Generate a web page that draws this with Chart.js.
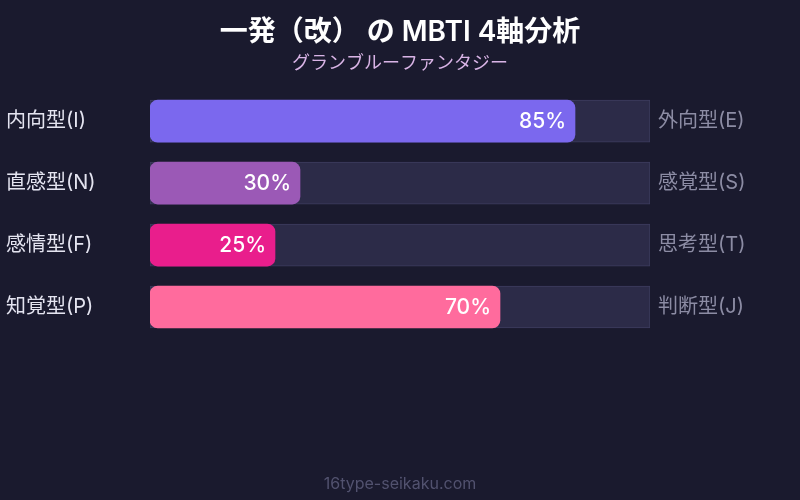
<!DOCTYPE html>
<html>
<head>
<meta charset="utf-8">
<script src="https://cdn.jsdelivr.net/npm/chart.js@4/dist/chart.umd.min.js"></script>
<style>
  html, body { margin: 0; padding: 0; background: #1a1a2e; }
  #wrap { width: 800px; height: 500px; }
</style>
</head>
<body>
<div id="wrap"><canvas id="mbtiChart" width="800" height="500"></canvas></div>
<script>
const LEFT_LABELS = ['内向型(I)', '直感型(N)', '感情型(F)', '知覚型(P)'];
const RIGHT_LABELS = ['外向型(E)', '感覚型(S)', '思考型(T)', '判断型(J)'];
const SCORES = [85, 30, 25, 70];
const TRACK = [100, 100, 100, 100];
const BAR_COLORS = ['#7b68ee', '#9b59b6', '#e91e8c', '#ff6b9d'];

const FONT = '"Inter", "Noto Sans CJK JP", "Noto Sans", sans-serif';

// percent text at the end of each filled bar
const valueLabels = {
    id: 'valueLabels',
    afterDatasetsDraw(chart) {
        const ctx = chart.ctx;
        const meta = chart.getDatasetMeta(0);
        ctx.save();
        ctx.font = '500 21px ' + FONT;
        ctx.fillStyle = '#ffffff';
        ctx.textAlign = 'right';
        ctx.textBaseline = 'middle';
        meta.data.forEach((bar, i) => {
            ctx.fillText(SCORES[i] + '%', bar.x - 9, bar.y + 1);
        });
        ctx.restore();
    }
};

const footer = {
    id: 'footer',
    afterDraw(chart) {
        const ctx = chart.ctx;
        ctx.save();
        ctx.font = '16px ' + FONT;
        ctx.fillStyle = '#52526f';
        ctx.textAlign = 'center';
        ctx.textBaseline = 'middle';
        ctx.fillText('16type-seikaku.com', chart.width / 2, 484);
        ctx.restore();
    }
};

const ctx = document.getElementById('mbtiChart').getContext('2d');
new Chart(ctx, {
    type: 'bar',
    data: {
        labels: LEFT_LABELS,
        datasets: [
            {
                data: SCORES,
                backgroundColor: BAR_COLORS,
                borderRadius: 8,
                borderSkipped: false,
                barThickness: 42,
                grouped: false,
                order: 1
            },
            {
                data: TRACK,
                backgroundColor: '#2c2b48',
                borderColor: '#3d3c5e',
                borderWidth: 1,
                borderSkipped: false,
                barThickness: 42,
                grouped: false,
                order: 2
            }
        ]
    },
    options: {
        indexAxis: 'y',
        responsive: false,
        animation: false,
        layout: { padding: { left: 6, right: 6, top: 0, bottom: 162 } },
        plugins: {
            legend: { display: false },
            tooltip: { enabled: false },
            title: {
                display: true,
                text: '一発（改） の MBTI 4軸分析',
                color: '#ffffff',
                font: { family: FONT, size: 28, weight: '600' },
                padding: { top: 16, bottom: 2 }
            },
            subtitle: {
                display: true,
                text: 'グランブルーファンタジー',
                color: '#d9b4e6',
                font: { family: FONT, size: 18 },
                padding: { top: 1, bottom: 16 }
            }
        },
        scales: {
            x: { display: false, min: 0, max: 100 },
            y: {
                position: 'left',
                grid: { display: false, drawTicks: false },
                border: { display: false },
                afterFit(scale) { scale.width = 144; },
                ticks: {
                    crossAlign: 'far',
                    color: '#e4e4f0',
                    font: { family: FONT, size: 20 }
                }
            },
            y2: {
                type: 'category',
                labels: RIGHT_LABELS,
                position: 'right',
                offset: true,
                grid: { display: false, drawTicks: false },
                border: { display: false },
                afterFit(scale) { scale.width = 144; },
                ticks: {
                    crossAlign: 'near',
                    padding: 8,
                    color: '#8c8ca4',
                    font: { family: FONT, size: 20 }
                }
            }
        }
    },
    plugins: [valueLabels, footer]
});
</script>
</body>
</html>
